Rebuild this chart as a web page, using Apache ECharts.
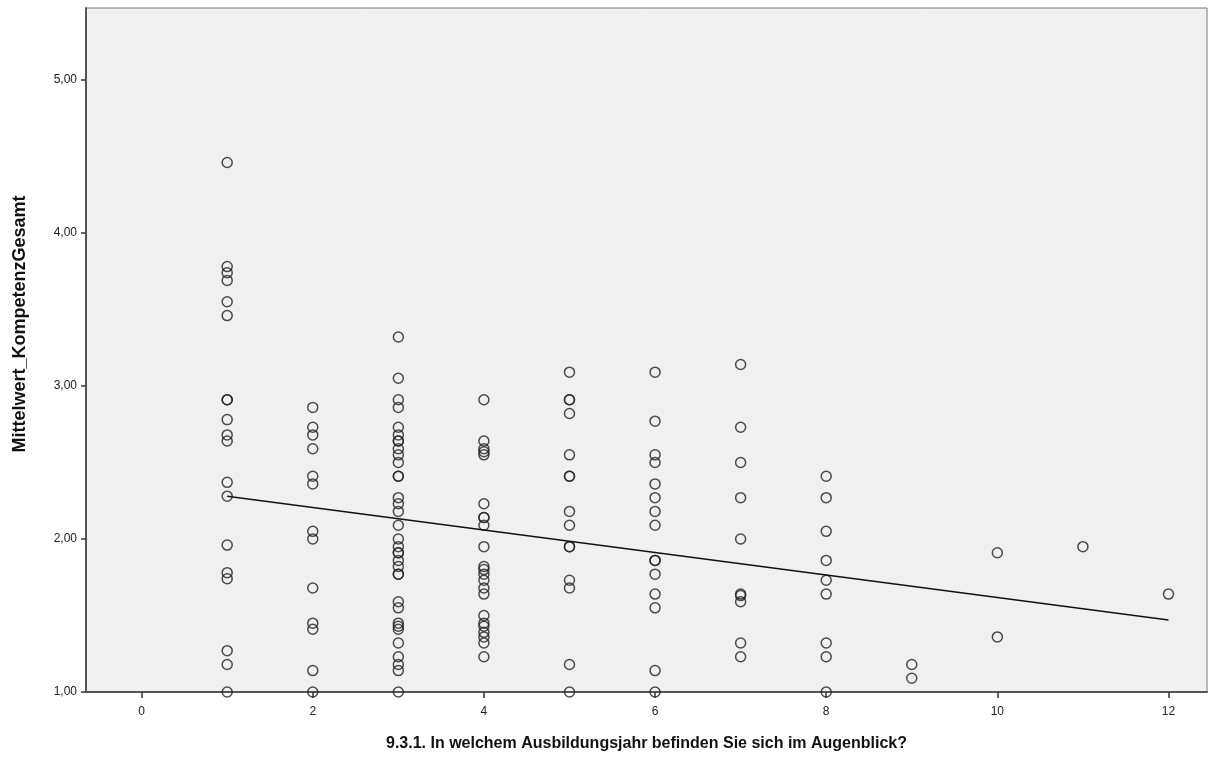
<!DOCTYPE html>
<html>
<head>
<meta charset="utf-8">
<script src="https://cdn.jsdelivr.net/npm/echarts@6/dist/echarts.min.js"></script>
<style>
  html, body { margin: 0; padding: 0; background: #ffffff; }
  #chart { width: 1222px; height: 758px; }
</style>
</head>
<body>
<div id="chart"></div>
<script>
// Training year (x) and mean competence score (y) per respondent
const year1 = [4.46, 3.78, 3.74, 3.69, 3.55, 3.46, 2.91, 2.91, 2.78, 2.68, 2.64, 2.37, 2.28, 1.96, 1.78, 1.74, 1.27, 1.18, 1.00];
const year2 = [2.86, 2.73, 2.68, 2.59, 2.41, 2.36, 2.05, 2.00, 1.68, 1.45, 1.41, 1.14, 1.00];
const year3 = [3.32, 3.05, 2.91, 2.86, 2.73, 2.68, 2.64, 2.64, 2.59, 2.55, 2.50, 2.41, 2.41, 2.27, 2.23, 2.18, 2.09,
               2.00, 1.95, 1.91, 1.91, 1.86, 1.82, 1.77, 1.77, 1.59, 1.55, 1.45, 1.43, 1.41, 1.32, 1.23, 1.18, 1.14, 1.00];
const year4 = [2.91, 2.64, 2.59, 2.57, 2.55, 2.23, 2.14, 2.14, 2.09, 1.95, 1.82, 1.80, 1.77, 1.73, 1.68, 1.64,
               1.50, 1.45, 1.43, 1.39, 1.36, 1.32, 1.23];
const year5 = [3.09, 2.91, 2.91, 2.82, 2.55, 2.41, 2.41, 2.18, 2.09, 1.95, 1.95, 1.73, 1.68, 1.18, 1.00];
const year6 = [3.09, 2.77, 2.55, 2.50, 2.36, 2.27, 2.18, 2.09, 1.86, 1.86, 1.77, 1.64, 1.55, 1.14, 1.00];
const year7 = [3.14, 2.73, 2.50, 2.27, 2.00, 1.64, 1.63, 1.59, 1.32, 1.23];
const year8 = [2.41, 2.27, 2.05, 1.86, 1.73, 1.64, 1.32, 1.23, 1.00];
const year9 = [1.18, 1.09];
const year10 = [1.91, 1.36];
const year11 = [1.95];
const year12 = [1.64];

const years = [1, 2, 3, 4, 5, 6, 7, 8, 9, 10, 11, 12];
const valuesByYear = [year1, year2, year3, year4, year5, year6, year7, year8, year9, year10, year11, year12];

// Linear fit line endpoints (year, score)
const fitLine = [[1, 2.28], [12, 1.47]];

const xTicks = [0, 2, 4, 6, 8, 10, 12];
const yTicks = [1, 2, 3, 4, 5];

const points = [];
years.forEach((yr, i) => valuesByYear[i].forEach(v => points.push([yr, v])));

const font = '"Liberation Sans", Arial, sans-serif';
const chart = echarts.init(document.getElementById('chart'), null, { renderer: 'canvas' });

chart.setOption({
  animation: false,
  backgroundColor: '#ffffff',
  grid: {
    left: 86, top: 8, right: 15, bottom: 66,
    show: true, backgroundColor: '#f0f0f0', borderColor: '#777777', borderWidth: 1
  },
  xAxis: {
    type: 'value',
    min: -0.65, max: 12.45,
    name: '9.3.1. In welchem Ausbildungsjahr befinden Sie sich im Augenblick?',
    nameLocation: 'middle', nameGap: 44,
    nameTextStyle: { fontFamily: font, fontSize: 16, fontWeight: 'bold', color: '#111111' },
    axisLine: { show: true, onZero: false, lineStyle: { color: '#555555', width: 2 } },
    axisTick: { show: true, length: 6, customValues: xTicks, lineStyle: { color: '#333333', width: 1.5 } },
    axisLabel: { customValues: xTicks, margin: 14, fontFamily: font, fontSize: 12, color: '#222222',
                 formatter: v => String(v) },
    splitLine: { show: false }
  },
  yAxis: {
    type: 'value',
    min: 1, max: 5.47,
    name: 'Mittelwert_KompetenzGesamt',
    nameLocation: 'middle', nameGap: 57,
    nameTextStyle: { fontFamily: font, fontSize: 18, fontWeight: 'bold', color: '#111111',
                     padding: [0, 0, 0, 52] },
    axisLine: { show: true, onZero: false, lineStyle: { color: '#555555', width: 2 } },
    axisTick: { show: true, length: 5, customValues: yTicks, lineStyle: { color: '#333333', width: 1.5 } },
    axisLabel: { customValues: yTicks, margin: 9, fontFamily: font, fontSize: 12, color: '#222222',
                 formatter: v => v.toFixed(2).replace('.', ',') },
    splitLine: { show: false }
  },
  series: [
    {
      type: 'scatter',
      data: points,
      symbol: 'circle',
      symbolSize: 10,
      itemStyle: { color: 'rgba(0,0,0,0)', borderColor: '#222222', borderWidth: 1.5 },
      silent: true,
      z: 3
    },
    {
      type: 'line',
      data: fitLine,
      showSymbol: false,
      lineStyle: { color: '#111111', width: 1.5 },
      silent: true,
      z: 4
    }
  ]
});
</script>
</body>
</html>
